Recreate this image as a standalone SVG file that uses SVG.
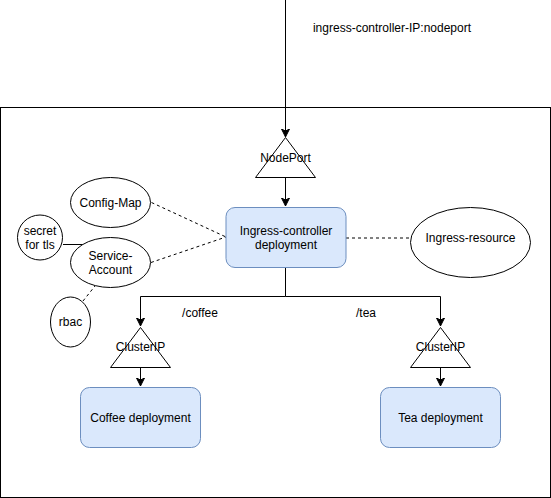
<svg xmlns="http://www.w3.org/2000/svg" width="551" height="498" viewBox="0 0 551 498">
<style>
text{font-family:"Liberation Sans",Arial,sans-serif;font-size:12px;fill:#000;text-anchor:middle}
.ln{fill:none;stroke:#000;stroke-width:1}
.dash{fill:none;stroke:#000;stroke-width:1;stroke-dasharray:3 3}
.box{fill:#dae8fc;stroke:#6c8ebf;stroke-width:1}
.sh{fill:#fff;stroke:#000;stroke-width:1}
</style>
<defs>
<marker id="arr" markerUnits="userSpaceOnUse" markerWidth="10" markerHeight="10" viewBox="0 0 10 10" refX="8" refY="4" orient="auto">
<path d="M0,0 L8,4 L0,8 L2,4 Z" fill="#000" stroke="#000" stroke-width="1"/>
</marker>
</defs>
<rect id="cluster" x="0.5" y="107.5" width="550" height="390" fill="#fff" stroke="#000"/>
<g id="connectors">
<path class="ln" d="M285.5,0 L285.5,137" marker-end="url(#arr)"/>
<path class="ln" d="M285.5,177 L285.5,206" marker-end="url(#arr)"/>
<path class="dash" d="M346,238 L411,238"/>
<path class="dash" d="M151.5,202.5 L226,237"/>
<path class="dash" d="M151,262.5 L226,237"/>
<path class="ln" d="M63,244.5 L83,244.5"/>
<path class="dash" d="M83,301 L95,286"/>
<path class="ln" d="M285.5,267 L285.5,296.5 L140.5,296.5 L140.5,326" marker-end="url(#arr)"/>
<path class="ln" d="M285.5,296.5 L440.5,296.5 L440.5,326" marker-end="url(#arr)"/>
<path class="ln" d="M140.5,367 L140.5,386" marker-end="url(#arr)"/>
<path class="ln" d="M440.5,367 L440.5,386" marker-end="url(#arr)"/>
</g>
<g id="label-ip"><text x="392" y="32">ingress-controller-IP:nodeport</text></g>
<g id="label-coffee"><text x="200" y="317">/coffee</text></g>
<g id="label-tea"><text x="366" y="317">/tea</text></g>
<g id="nodeport">
<path class="sh" d="M285.5,137.5 L315.5,177.5 L255.5,177.5 Z"/>
<text x="285.5" y="162">NodePort</text>
</g>
<g id="ingress-controller">
<rect class="box" x="226" y="207.5" width="120" height="60" rx="9"/>
<text x="286" y="235">Ingress-controller</text>
<text x="286" y="249">deployment</text>
</g>
<g id="ingress-resource">
<ellipse class="sh" cx="470.5" cy="242.5" rx="60" ry="35"/>
<text x="470.5" y="242">Ingress-resource</text>
</g>
<g id="config-map">
<ellipse class="sh" cx="110.5" cy="202.5" rx="40" ry="25"/>
<text x="110.5" y="207">Config-Map</text>
</g>
<g id="service-account">
<ellipse class="sh" cx="110.5" cy="262.5" rx="40" ry="25"/>
<text x="110.5" y="260">Service-</text>
<text x="110.5" y="274">Account</text>
</g>
<g id="secret">
<ellipse class="sh" cx="40" cy="237.5" rx="22.5" ry="22.5"/>
<text x="40" y="235">secret</text>
<text x="40" y="249">for tls</text>
</g>
<g id="rbac">
<ellipse class="sh" cx="70.5" cy="322" rx="20" ry="25"/>
<text x="70.5" y="326">rbac</text>
</g>
<g id="clusterip-coffee">
<path class="sh" d="M140.5,327.5 L170.5,367.5 L110.5,367.5 Z"/>
<text x="140.5" y="351">ClusterIP</text>
</g>
<g id="clusterip-tea">
<path class="sh" d="M440.5,327.5 L470.5,367.5 L410.5,367.5 Z"/>
<text x="440.5" y="351">ClusterIP</text>
</g>
<g id="coffee-deployment">
<rect class="box" x="80.5" y="387.5" width="120" height="60" rx="9"/>
<text x="140.5" y="422">Coffee deployment</text>
</g>
<g id="tea-deployment">
<rect class="box" x="380.5" y="387.5" width="120" height="60" rx="9"/>
<text x="440.5" y="422">Tea deployment</text>
</g>
</svg>
